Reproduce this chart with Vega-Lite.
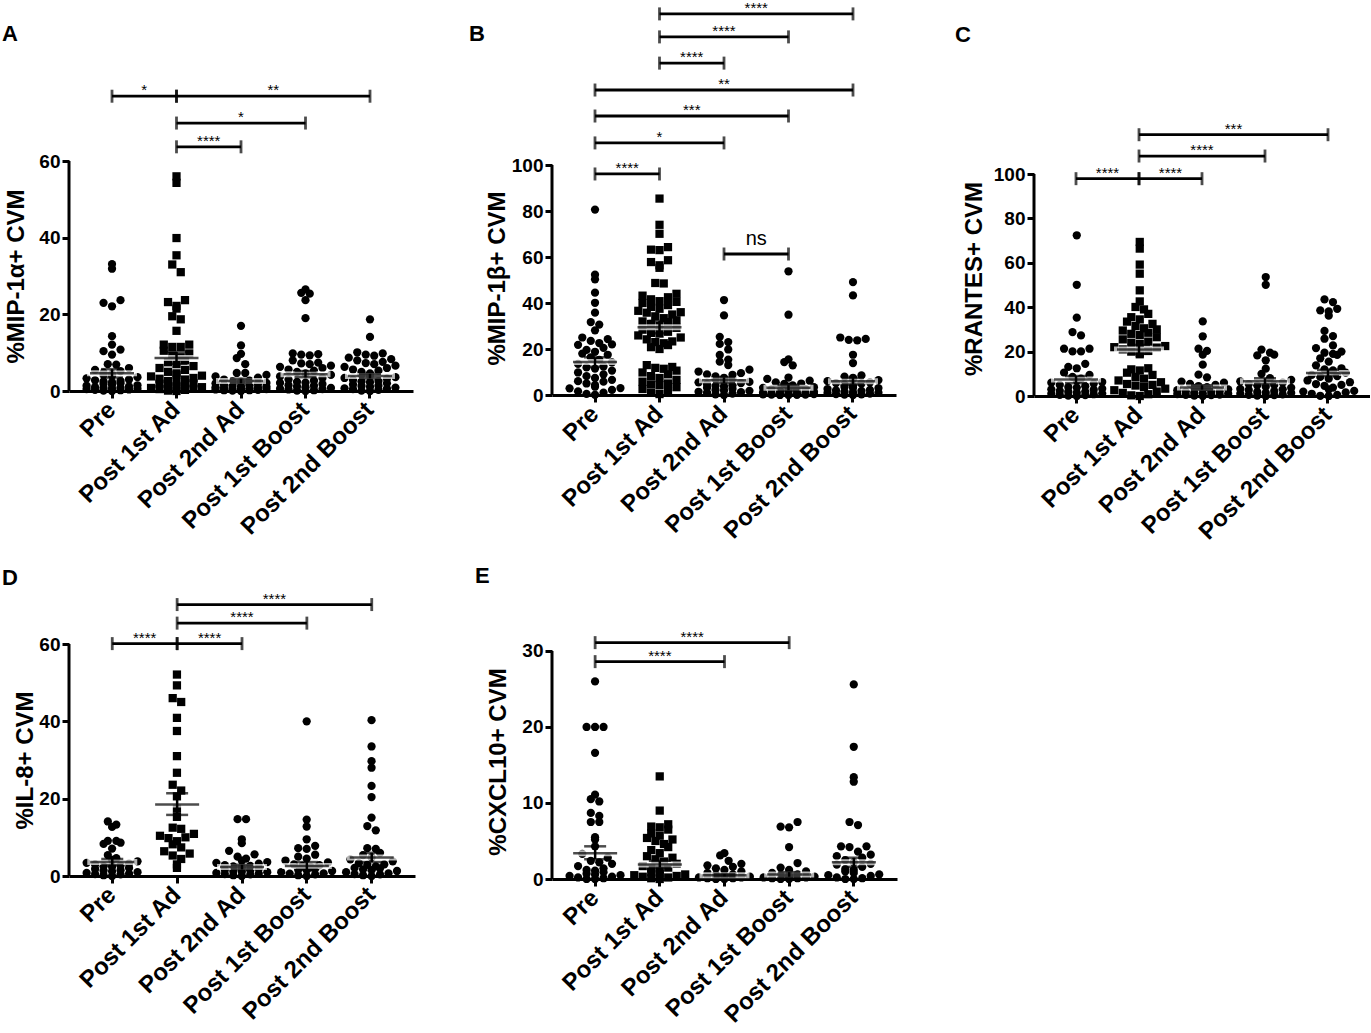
{
"$schema": "https://vega.github.io/schema/vega-lite/v6.json",
"background": "white",
"padding": {"left": 2, "top": 0, "right": 0, "bottom": 0},
"columns": 3,
"spacing": {"row": 248, "column": 137},
"bounds": "flush",
"align": {"row": "each", "column": "none"},
"config": {
  "view": {"stroke": null},
  "font": "Liberation Sans",
  "axis": {"domainColor": "black", "domainWidth": 3, "tickColor": "black", "tickWidth": 3, "tickSize": 7, "labelColor": "black", "labelFont": "Liberation Sans", "labelFontWeight": "bold", "titleColor": "black", "titleFont": "Liberation Sans", "titleFontWeight": "bold", "titleFontSize": 24, "grid": false, "labelOverlap": false},
  "axisY": {"domain": false, "labelFontSize": 19, "labelPadding": 2, "titleBaseline": "alphabetic"},
  "axisX": {"labelFontSize": 24, "labelAngle": -45, "labelAlign": "right", "labelBaseline": "middle", "labelPadding": 8, "labelLimit": 400},
  "title": {"anchor": "start", "frame": "group", "baseline": "alphabetic", "fontSize": 22, "fontWeight": "bold", "font": "Liberation Sans", "color": "black"},
  "text": {"font": "Liberation Sans", "color": "black"}
},
"datasets": {
"A": [
{"g":0,"v":33.1},{"g":0,"v":31.9},{"g":0,"v":23.7},{"g":0,"v":23.0},{"g":0,"v":22.1},{"g":0,"v":14.3},{"g":0,"v":12.1},{"g":0,"v":10.8},{"g":0,"v":10.4},{"g":0,"v":9.5},{"g":0,"v":7.0},{"g":0,"v":6.9},{"g":0,"v":6.0},{"g":0,"v":5.5},{"g":0,"v":5.2},{"g":0,"v":4.8},{"g":0,"v":4.5},{"g":0,"v":4.2},{"g":0,"v":4.0},{"g":0,"v":3.6},{"g":0,"v":3.3},{"g":0,"v":3.0},{"g":0,"v":2.8},{"g":0,"v":2.5},{"g":0,"v":2.3},{"g":0,"v":2.0},{"g":0,"v":1.8},{"g":0,"v":1.6},{"g":0,"v":1.4},{"g":0,"v":1.2},{"g":0,"v":1.0},{"g":0,"v":0.9},{"g":0,"v":0.8},{"g":0,"v":0.6},{"g":0,"v":0.5},{"g":0,"v":0.4},{"g":0,"v":0.3},{"g":0,"v":0.2},{"g":0,"v":0.1},{"g":0,"v":0.0},{"g":0,"v":1.5},{"g":0,"v":2.6},{"g":0,"v":0.7},
{"g":1,"v":56.0},{"g":1,"v":54.3},{"g":1,"v":39.9},{"g":1,"v":35.4},{"g":1,"v":33.0},{"g":1,"v":31.0},{"g":1,"v":23.7},{"g":1,"v":23.2},{"g":1,"v":22.2},{"g":1,"v":21.5},{"g":1,"v":19.5},{"g":1,"v":18.7},{"g":1,"v":15.7},{"g":1,"v":12.1},{"g":1,"v":12.1},{"g":1,"v":11.5},{"g":1,"v":11.5},{"g":1,"v":10.5},{"g":1,"v":9.8},{"g":1,"v":9.2},{"g":1,"v":8.8},{"g":1,"v":8.0},{"g":1,"v":7.5},{"g":1,"v":7.0},{"g":1,"v":6.5},{"g":1,"v":6.0},{"g":1,"v":5.5},{"g":1,"v":5.0},{"g":1,"v":4.6},{"g":1,"v":4.2},{"g":1,"v":3.8},{"g":1,"v":3.4},{"g":1,"v":3.0},{"g":1,"v":2.6},{"g":1,"v":2.2},{"g":1,"v":1.9},{"g":1,"v":1.6},{"g":1,"v":1.3},{"g":1,"v":1.0},{"g":1,"v":0.8},{"g":1,"v":0.5},{"g":1,"v":0.3},{"g":1,"v":0.1},{"g":1,"v":0.0},{"g":1,"v":2.0},{"g":1,"v":1.2},{"g":1,"v":0.6},{"g":1,"v":4.0},{"g":1,"v":3.2},
{"g":2,"v":17.0},{"g":2,"v":11.9},{"g":2,"v":9.7},{"g":2,"v":8.6},{"g":2,"v":7.0},{"g":2,"v":4.7},{"g":2,"v":4.7},{"g":2,"v":4.2},{"g":2,"v":3.8},{"g":2,"v":3.5},{"g":2,"v":3.0},{"g":2,"v":2.7},{"g":2,"v":2.4},{"g":2,"v":2.1},{"g":2,"v":1.8},{"g":2,"v":1.6},{"g":2,"v":1.4},{"g":2,"v":1.2},{"g":2,"v":1.0},{"g":2,"v":0.9},{"g":2,"v":0.7},{"g":2,"v":0.6},{"g":2,"v":0.5},{"g":2,"v":0.4},{"g":2,"v":0.3},{"g":2,"v":0.2},{"g":2,"v":0.1},{"g":2,"v":0.0},{"g":2,"v":1.1},{"g":2,"v":2.0},{"g":2,"v":0.8},{"g":2,"v":0.5},{"g":2,"v":1.5},{"g":2,"v":2.5},{"g":2,"v":0.2},
{"g":3,"v":26.5},{"g":3,"v":25.6},{"g":3,"v":25.4},{"g":3,"v":23.7},{"g":3,"v":19.0},{"g":3,"v":9.8},{"g":3,"v":9.6},{"g":3,"v":9.5},{"g":3,"v":9.3},{"g":3,"v":8.0},{"g":3,"v":7.4},{"g":3,"v":7.2},{"g":3,"v":7.0},{"g":3,"v":6.6},{"g":3,"v":6.3},{"g":3,"v":6.0},{"g":3,"v":5.6},{"g":3,"v":5.3},{"g":3,"v":5.0},{"g":3,"v":4.6},{"g":3,"v":4.2},{"g":3,"v":3.8},{"g":3,"v":3.4},{"g":3,"v":3.0},{"g":3,"v":2.7},{"g":3,"v":2.4},{"g":3,"v":2.1},{"g":3,"v":1.8},{"g":3,"v":1.5},{"g":3,"v":1.2},{"g":3,"v":1.0},{"g":3,"v":0.8},{"g":3,"v":0.6},{"g":3,"v":0.4},{"g":3,"v":0.2},{"g":3,"v":0.1},{"g":3,"v":0.0},{"g":3,"v":1.4},{"g":3,"v":2.2},{"g":3,"v":0.5},
{"g":4,"v":18.7},{"g":4,"v":14.1},{"g":4,"v":10.1},{"g":4,"v":9.8},{"g":4,"v":9.5},{"g":4,"v":9.2},{"g":4,"v":8.7},{"g":4,"v":8.3},{"g":4,"v":8.0},{"g":4,"v":7.6},{"g":4,"v":7.3},{"g":4,"v":7.0},{"g":4,"v":6.6},{"g":4,"v":6.3},{"g":4,"v":6.0},{"g":4,"v":5.6},{"g":4,"v":5.3},{"g":4,"v":5.0},{"g":4,"v":4.6},{"g":4,"v":4.3},{"g":4,"v":4.0},{"g":4,"v":3.6},{"g":4,"v":3.2},{"g":4,"v":2.9},{"g":4,"v":2.6},{"g":4,"v":2.3},{"g":4,"v":2.0},{"g":4,"v":1.7},{"g":4,"v":1.4},{"g":4,"v":1.1},{"g":4,"v":0.9},{"g":4,"v":0.7},{"g":4,"v":0.5},{"g":4,"v":0.3},{"g":4,"v":0.1},{"g":4,"v":0.0},{"g":4,"v":1.3},{"g":4,"v":2.5},{"g":4,"v":0.6},{"g":4,"v":3.4}
],
"sA": [{"g":0,"m":4.6,"lo":3.5,"hi":5.7},{"g":1,"m":8.6,"lo":7.1,"hi":10.2},{"g":2,"m":2.6,"lo":2.0,"hi":3.2},{"g":3,"m":4.4,"lo":3.6,"hi":5.2},{"g":4,"m":3.9,"lo":3.3,"hi":4.5}],
"bA": [{"a":0,"b":1,"h":76.9,"s":"*"},{"a":1,"b":4,"h":76.9,"s":"**"},{"a":1,"b":3,"h":69.9,"s":"*"},{"a":1,"b":2,"h":63.7,"s":"****"}],
"B": [
{"g":0,"v":80.6},{"g":0,"v":52.3},{"g":0,"v":50.3},{"g":0,"v":44.5},{"g":0,"v":40.1},{"g":0,"v":35.8},{"g":0,"v":31.7},{"g":0,"v":30.6},{"g":0,"v":28.1},{"g":0,"v":25.0},{"g":0,"v":24.3},{"g":0,"v":23.5},{"g":0,"v":22.6},{"g":0,"v":21.8},{"g":0,"v":20.5},{"g":0,"v":19.6},{"g":0,"v":18.8},{"g":0,"v":17.5},{"g":0,"v":16.4},{"g":0,"v":15.3},{"g":0,"v":14.2},{"g":0,"v":13.5},{"g":0,"v":12.4},{"g":0,"v":11.5},{"g":0,"v":10.6},{"g":0,"v":9.8},{"g":0,"v":9.0},{"g":0,"v":8.2},{"g":0,"v":7.4},{"g":0,"v":6.6},{"g":0,"v":5.8},{"g":0,"v":5.0},{"g":0,"v":4.3},{"g":0,"v":3.6},{"g":0,"v":2.9},{"g":0,"v":2.2},{"g":0,"v":1.6},{"g":0,"v":1.0},{"g":0,"v":0.5},{"g":0,"v":0.1},{"g":0,"v":3.0},{"g":0,"v":6.0},{"g":0,"v":12.0},{"g":0,"v":18.0},{"g":0,"v":22.0},
{"g":1,"v":85.4},{"g":1,"v":74.0},{"g":1,"v":70.1},{"g":1,"v":64.3},{"g":1,"v":63.2},{"g":1,"v":63.0},{"g":1,"v":58.6},{"g":1,"v":57.8},{"g":1,"v":56.4},{"g":1,"v":55.3},{"g":1,"v":48.7},{"g":1,"v":48.5},{"g":1,"v":44.0},{"g":1,"v":43.2},{"g":1,"v":42.5},{"g":1,"v":41.6},{"g":1,"v":40.8},{"g":1,"v":40.0},{"g":1,"v":39.1},{"g":1,"v":38.3},{"g":1,"v":37.5},{"g":1,"v":36.6},{"g":1,"v":35.8},{"g":1,"v":35.0},{"g":1,"v":34.2},{"g":1,"v":33.4},{"g":1,"v":32.5},{"g":1,"v":31.7},{"g":1,"v":30.9},{"g":1,"v":30.0},{"g":1,"v":29.2},{"g":1,"v":28.4},{"g":1,"v":27.5},{"g":1,"v":26.7},{"g":1,"v":25.9},{"g":1,"v":25.0},{"g":1,"v":24.2},{"g":1,"v":23.3},{"g":1,"v":22.5},{"g":1,"v":21.7},{"g":1,"v":20.8},{"g":1,"v":20.0},{"g":1,"v":13.0},{"g":1,"v":12.2},{"g":1,"v":11.4},{"g":1,"v":10.6},{"g":1,"v":9.8},{"g":1,"v":9.0},{"g":1,"v":8.2},{"g":1,"v":7.4},{"g":1,"v":6.6},{"g":1,"v":5.8},{"g":1,"v":5.0},{"g":1,"v":4.2},{"g":1,"v":3.4},{"g":1,"v":2.6},{"g":1,"v":1.8},{"g":1,"v":1.0},{"g":1,"v":0.4},{"g":1,"v":32.0},{"g":1,"v":36.0},{"g":1,"v":40.5},{"g":1,"v":27.0},{"g":1,"v":23.0},{"g":1,"v":11.8},{"g":1,"v":4.6},
{"g":2,"v":41.3},{"g":2,"v":34.6},{"g":2,"v":25.3},{"g":2,"v":23.0},{"g":2,"v":22.2},{"g":2,"v":19.8},{"g":2,"v":17.4},{"g":2,"v":15.4},{"g":2,"v":14.5},{"g":2,"v":13.0},{"g":2,"v":11.0},{"g":2,"v":10.2},{"g":2,"v":9.5},{"g":2,"v":8.8},{"g":2,"v":8.1},{"g":2,"v":7.5},{"g":2,"v":6.9},{"g":2,"v":6.3},{"g":2,"v":5.7},{"g":2,"v":5.2},{"g":2,"v":4.7},{"g":2,"v":4.2},{"g":2,"v":3.7},{"g":2,"v":3.2},{"g":2,"v":2.7},{"g":2,"v":2.2},{"g":2,"v":1.8},{"g":2,"v":1.4},{"g":2,"v":1.0},{"g":2,"v":0.6},{"g":2,"v":0.3},{"g":2,"v":0.0},{"g":2,"v":7.0},{"g":2,"v":4.0},{"g":2,"v":2.0},{"g":2,"v":1.2},{"g":2,"v":9.0},{"g":2,"v":5.5},
{"g":3,"v":53.8},{"g":3,"v":34.9},{"g":3,"v":15.5},{"g":3,"v":14.3},{"g":3,"v":12.9},{"g":3,"v":7.6},{"g":3,"v":7.0},{"g":3,"v":6.2},{"g":3,"v":5.5},{"g":3,"v":4.8},{"g":3,"v":4.2},{"g":3,"v":3.6},{"g":3,"v":3.1},{"g":3,"v":2.6},{"g":3,"v":2.2},{"g":3,"v":1.8},{"g":3,"v":1.4},{"g":3,"v":1.1},{"g":3,"v":0.8},{"g":3,"v":0.6},{"g":3,"v":0.4},{"g":3,"v":0.2},{"g":3,"v":0.1},{"g":3,"v":0.0},{"g":3,"v":0.3},{"g":3,"v":0.5},{"g":3,"v":1.0},{"g":3,"v":1.6},{"g":3,"v":2.4},{"g":3,"v":0.0},{"g":3,"v":0.2},{"g":3,"v":0.7},{"g":3,"v":3.4},{"g":3,"v":5.0},
{"g":4,"v":49.1},{"g":4,"v":43.3},{"g":4,"v":25.0},{"g":4,"v":24.4},{"g":4,"v":24.0},{"g":4,"v":23.8},{"g":4,"v":17.5},{"g":4,"v":13.9},{"g":4,"v":8.5},{"g":4,"v":8.0},{"g":4,"v":7.5},{"g":4,"v":7.0},{"g":4,"v":6.5},{"g":4,"v":6.0},{"g":4,"v":5.5},{"g":4,"v":5.0},{"g":4,"v":4.5},{"g":4,"v":4.0},{"g":4,"v":3.5},{"g":4,"v":3.0},{"g":4,"v":2.6},{"g":4,"v":2.2},{"g":4,"v":1.8},{"g":4,"v":1.5},{"g":4,"v":1.2},{"g":4,"v":0.9},{"g":4,"v":0.6},{"g":4,"v":0.4},{"g":4,"v":0.2},{"g":4,"v":0.0},{"g":4,"v":3.2},{"g":4,"v":1.0},{"g":4,"v":2.0},{"g":4,"v":5.2},{"g":4,"v":0.3}
],
"sB": [{"g":0,"m":14.3,"lo":12.3,"hi":16.4},{"g":1,"m":29.5,"lo":26.8,"hi":32.2},{"g":2,"m":6.4,"lo":5.2,"hi":7.7},{"g":3,"m":3.1,"lo":2.0,"hi":4.3},{"g":4,"m":6.0,"lo":4.6,"hi":7.4}],
"bB": [{"a":1,"b":4,"h":165.7,"s":"****"},{"a":1,"b":3,"h":155.7,"s":"****"},{"a":1,"b":2,"h":144.3,"s":"****"},{"a":0,"b":4,"h":132.6,"s":"**"},{"a":0,"b":3,"h":121.3,"s":"***"},{"a":0,"b":2,"h":109.6,"s":"*"},{"a":0,"b":1,"h":96.1,"s":"****"},{"a":2,"b":3,"h":61.3,"s":"ns"}],
"C": [
{"g":0,"v":72.4},{"g":0,"v":50.1},{"g":0,"v":35.3},{"g":0,"v":28.8},{"g":0,"v":27.3},{"g":0,"v":21.3},{"g":0,"v":21.3},{"g":0,"v":20.1},{"g":0,"v":20.1},{"g":0,"v":14.5},{"g":0,"v":13.1},{"g":0,"v":12.5},{"g":0,"v":10.5},{"g":0,"v":9.5},{"g":0,"v":8.6},{"g":0,"v":7.8},{"g":0,"v":7.0},{"g":0,"v":6.3},{"g":0,"v":5.6},{"g":0,"v":5.0},{"g":0,"v":4.4},{"g":0,"v":3.8},{"g":0,"v":3.3},{"g":0,"v":2.8},{"g":0,"v":2.3},{"g":0,"v":1.9},{"g":0,"v":1.5},{"g":0,"v":1.1},{"g":0,"v":0.8},{"g":0,"v":0.5},{"g":0,"v":0.2},{"g":0,"v":0.0},{"g":0,"v":1.0},{"g":0,"v":2.0},{"g":0,"v":3.0},{"g":0,"v":4.0},{"g":0,"v":6.0},{"g":0,"v":0.4},
{"g":1,"v":69.4},{"g":1,"v":66.4},{"g":1,"v":59.2},{"g":1,"v":55.1},{"g":1,"v":47.6},{"g":1,"v":42.6},{"g":1,"v":40.1},{"g":1,"v":39.0},{"g":1,"v":37.0},{"g":1,"v":35.5},{"g":1,"v":34.5},{"g":1,"v":33.5},{"g":1,"v":32.5},{"g":1,"v":31.5},{"g":1,"v":30.5},{"g":1,"v":29.5},{"g":1,"v":28.5},{"g":1,"v":27.5},{"g":1,"v":26.5},{"g":1,"v":25.5},{"g":1,"v":24.5},{"g":1,"v":23.5},{"g":1,"v":22.5},{"g":1,"v":21.8},{"g":1,"v":21.0},{"g":1,"v":20.3},{"g":1,"v":19.5},{"g":1,"v":18.8},{"g":1,"v":22.0},{"g":1,"v":20.0},{"g":1,"v":30.0},{"g":1,"v":12.5},{"g":1,"v":11.5},{"g":1,"v":10.5},{"g":1,"v":9.5},{"g":1,"v":8.6},{"g":1,"v":7.8},{"g":1,"v":7.0},{"g":1,"v":6.2},{"g":1,"v":5.4},{"g":1,"v":4.7},{"g":1,"v":4.0},{"g":1,"v":3.3},{"g":1,"v":2.6},{"g":1,"v":2.0},{"g":1,"v":1.4},{"g":1,"v":0.8},{"g":1,"v":0.3},{"g":1,"v":0.0},{"g":1,"v":12.0},{"g":1,"v":5.0},{"g":1,"v":24.0},{"g":1,"v":28.0},
{"g":2,"v":33.6},{"g":2,"v":26.9},{"g":2,"v":21.3},{"g":2,"v":20.3},{"g":2,"v":18.6},{"g":2,"v":14.1},{"g":2,"v":9.6},{"g":2,"v":8.4},{"g":2,"v":6.5},{"g":2,"v":6.0},{"g":2,"v":5.5},{"g":2,"v":5.0},{"g":2,"v":4.5},{"g":2,"v":4.0},{"g":2,"v":3.5},{"g":2,"v":3.0},{"g":2,"v":2.6},{"g":2,"v":2.2},{"g":2,"v":1.8},{"g":2,"v":1.5},{"g":2,"v":1.2},{"g":2,"v":0.9},{"g":2,"v":0.6},{"g":2,"v":0.4},{"g":2,"v":0.2},{"g":2,"v":0.0},{"g":2,"v":1.0},{"g":2,"v":2.0},{"g":2,"v":3.2},{"g":2,"v":0.5},
{"g":3,"v":53.6},{"g":3,"v":50.1},{"g":3,"v":20.9},{"g":3,"v":19.5},{"g":3,"v":18.6},{"g":3,"v":18.3},{"g":3,"v":16.1},{"g":3,"v":12.3},{"g":3,"v":10.0},{"g":3,"v":8.0},{"g":3,"v":7.3},{"g":3,"v":6.6},{"g":3,"v":6.0},{"g":3,"v":5.4},{"g":3,"v":4.8},{"g":3,"v":4.2},{"g":3,"v":3.7},{"g":3,"v":3.2},{"g":3,"v":2.7},{"g":3,"v":2.2},{"g":3,"v":1.8},{"g":3,"v":1.4},{"g":3,"v":1.0},{"g":3,"v":0.7},{"g":3,"v":0.4},{"g":3,"v":0.2},{"g":3,"v":0.0},{"g":3,"v":1.5},{"g":3,"v":3.0},{"g":3,"v":5.0},{"g":3,"v":0.5},
{"g":4,"v":43.5},{"g":4,"v":42.3},{"g":4,"v":39.3},{"g":4,"v":38.6},{"g":4,"v":38.1},{"g":4,"v":36.2},{"g":4,"v":29.3},{"g":4,"v":27.0},{"g":4,"v":25.8},{"g":4,"v":22.8},{"g":4,"v":21.6},{"g":4,"v":20.0},{"g":4,"v":19.5},{"g":4,"v":19.0},{"g":4,"v":18.5},{"g":4,"v":17.0},{"g":4,"v":15.5},{"g":4,"v":13.8},{"g":4,"v":12.5},{"g":4,"v":11.5},{"g":4,"v":10.5},{"g":4,"v":9.5},{"g":4,"v":8.6},{"g":4,"v":7.8},{"g":4,"v":7.0},{"g":4,"v":6.2},{"g":4,"v":5.4},{"g":4,"v":4.6},{"g":4,"v":3.8},{"g":4,"v":3.0},{"g":4,"v":2.3},{"g":4,"v":1.6},{"g":4,"v":1.0},{"g":4,"v":0.5},{"g":4,"v":0.1},{"g":4,"v":2.0},{"g":4,"v":5.0},{"g":4,"v":9.0},{"g":4,"v":12.0},{"g":4,"v":0.0}
],
"sC": [{"g":0,"m":7.4,"lo":5.8,"hi":9.0},{"g":1,"m":21.0,"lo":19.0,"hi":23.0},{"g":2,"m":3.8,"lo":2.9,"hi":4.8},{"g":3,"m":6.6,"lo":5.3,"hi":8.0},{"g":4,"m":10.4,"lo":9.0,"hi":11.8}],
"bC": [{"a":1,"b":4,"h":117.7,"s":"***"},{"a":1,"b":3,"h":108.1,"s":"****"},{"a":1,"b":2,"h":97.9,"s":"****"},{"a":0,"b":1,"h":97.9,"s":"****"}],
"D": [
{"g":0,"v":14.1},{"g":0,"v":13.3},{"g":0,"v":12.7},{"g":0,"v":9.1},{"g":0,"v":9.1},{"g":0,"v":8.6},{"g":0,"v":8.3},{"g":0,"v":7.1},{"g":0,"v":5.4},{"g":0,"v":4.6},{"g":0,"v":4.2},{"g":0,"v":3.8},{"g":0,"v":3.4},{"g":0,"v":3.0},{"g":0,"v":2.7},{"g":0,"v":2.4},{"g":0,"v":2.1},{"g":0,"v":1.8},{"g":0,"v":1.5},{"g":0,"v":1.2},{"g":0,"v":1.0},{"g":0,"v":0.8},{"g":0,"v":0.6},{"g":0,"v":0.4},{"g":0,"v":0.2},{"g":0,"v":0.0},{"g":0,"v":1.4},{"g":0,"v":2.5},{"g":0,"v":0.5},{"g":0,"v":3.2},
{"g":1,"v":52.1},{"g":1,"v":49.3},{"g":1,"v":46.0},{"g":1,"v":45.0},{"g":1,"v":40.9},{"g":1,"v":37.5},{"g":1,"v":31.0},{"g":1,"v":26.7},{"g":1,"v":23.6},{"g":1,"v":22.1},{"g":1,"v":20.6},{"g":1,"v":17.4},{"g":1,"v":15.3},{"g":1,"v":12.5},{"g":1,"v":12.2},{"g":1,"v":10.9},{"g":1,"v":10.4},{"g":1,"v":10.0},{"g":1,"v":9.8},{"g":1,"v":9.0},{"g":1,"v":8.2},{"g":1,"v":7.4},{"g":1,"v":6.4},{"g":1,"v":5.8},{"g":1,"v":5.3},{"g":1,"v":4.4},{"g":1,"v":3.0},{"g":1,"v":2.1},
{"g":2,"v":14.7},{"g":2,"v":14.7},{"g":2,"v":9.5},{"g":2,"v":8.5},{"g":2,"v":6.5},{"g":2,"v":5.6},{"g":2,"v":5.0},{"g":2,"v":4.5},{"g":2,"v":4.0},{"g":2,"v":3.6},{"g":2,"v":3.2},{"g":2,"v":2.8},{"g":2,"v":2.5},{"g":2,"v":2.2},{"g":2,"v":1.9},{"g":2,"v":1.6},{"g":2,"v":1.3},{"g":2,"v":1.0},{"g":2,"v":0.8},{"g":2,"v":0.6},{"g":2,"v":0.4},{"g":2,"v":0.2},{"g":2,"v":0.0},{"g":2,"v":1.5},{"g":2,"v":2.6},{"g":2,"v":0.5},{"g":2,"v":3.4},{"g":2,"v":1.1},
{"g":3,"v":40.0},{"g":3,"v":14.6},{"g":3,"v":12.8},{"g":3,"v":9.5},{"g":3,"v":7.8},{"g":3,"v":7.2},{"g":3,"v":7.0},{"g":3,"v":5.5},{"g":3,"v":5.0},{"g":3,"v":4.5},{"g":3,"v":4.0},{"g":3,"v":3.5},{"g":3,"v":3.0},{"g":3,"v":2.6},{"g":3,"v":2.2},{"g":3,"v":1.9},{"g":3,"v":1.6},{"g":3,"v":1.3},{"g":3,"v":1.0},{"g":3,"v":0.7},{"g":3,"v":0.4},{"g":3,"v":0.2},{"g":3,"v":0.0},{"g":3,"v":2.8},{"g":3,"v":1.5},{"g":3,"v":0.6},
{"g":4,"v":40.3},{"g":4,"v":33.5},{"g":4,"v":29.7},{"g":4,"v":28.0},{"g":4,"v":23.3},{"g":4,"v":20.4},{"g":4,"v":15.1},{"g":4,"v":12.9},{"g":4,"v":11.8},{"g":4,"v":7.2},{"g":4,"v":7.0},{"g":4,"v":6.0},{"g":4,"v":5.4},{"g":4,"v":4.8},{"g":4,"v":4.3},{"g":4,"v":3.8},{"g":4,"v":3.3},{"g":4,"v":2.9},{"g":4,"v":2.5},{"g":4,"v":2.1},{"g":4,"v":1.7},{"g":4,"v":1.3},{"g":4,"v":1.0},{"g":4,"v":0.7},{"g":4,"v":0.4},{"g":4,"v":0.2},{"g":4,"v":0.0},{"g":4,"v":2.0},{"g":4,"v":3.0},{"g":4,"v":0.5},{"g":4,"v":1.5}
],
"sD": [{"g":0,"m":3.6,"lo":2.8,"hi":4.4},{"g":1,"m":18.5,"lo":15.8,"hi":21.4},{"g":2,"m":2.3,"lo":1.7,"hi":2.9},{"g":3,"m":2.6,"lo":1.6,"hi":3.6},{"g":4,"m":4.8,"lo":3.6,"hi":6.0}],
"bD": [{"a":1,"b":4,"h":70.2,"s":"****"},{"a":1,"b":3,"h":65.4,"s":"****"},{"a":1,"b":2,"h":60.1,"s":"****"},{"a":0,"b":1,"h":60.1,"s":"****"}],
"E": [
{"g":0,"v":26.0},{"g":0,"v":20.0},{"g":0,"v":20.0},{"g":0,"v":20.0},{"g":0,"v":16.6},{"g":0,"v":11.1},{"g":0,"v":10.5},{"g":0,"v":10.2},{"g":0,"v":8.7},{"g":0,"v":8.3},{"g":0,"v":7.5},{"g":0,"v":7.5},{"g":0,"v":5.5},{"g":0,"v":5.2},{"g":0,"v":4.3},{"g":0,"v":3.3},{"g":0,"v":2.8},{"g":0,"v":2.4},{"g":0,"v":2.0},{"g":0,"v":1.7},{"g":0,"v":1.4},{"g":0,"v":1.1},{"g":0,"v":0.9},{"g":0,"v":0.7},{"g":0,"v":0.5},{"g":0,"v":0.3},{"g":0,"v":0.2},{"g":0,"v":0.1},{"g":0,"v":0.0},{"g":0,"v":0.0},{"g":0,"v":1.2},{"g":0,"v":2.2},{"g":0,"v":0.4},{"g":0,"v":0.6},
{"g":1,"v":13.5},{"g":1,"v":9.0},{"g":1,"v":7.2},{"g":1,"v":6.9},{"g":1,"v":6.8},{"g":1,"v":6.5},{"g":1,"v":6.0},{"g":1,"v":5.7},{"g":1,"v":5.4},{"g":1,"v":5.0},{"g":1,"v":4.6},{"g":1,"v":4.2},{"g":1,"v":3.8},{"g":1,"v":3.4},{"g":1,"v":3.0},{"g":1,"v":2.6},{"g":1,"v":2.3},{"g":1,"v":2.0},{"g":1,"v":1.7},{"g":1,"v":1.4},{"g":1,"v":1.1},{"g":1,"v":0.9},{"g":1,"v":0.7},{"g":1,"v":0.5},{"g":1,"v":0.3},{"g":1,"v":0.2},{"g":1,"v":0.1},{"g":1,"v":0.0},{"g":1,"v":1.5},{"g":1,"v":0.6},{"g":1,"v":2.8},{"g":1,"v":5.2},{"g":1,"v":0.4},
{"g":2,"v":3.4},{"g":2,"v":3.1},{"g":2,"v":2.4},{"g":2,"v":2.0},{"g":2,"v":1.8},{"g":2,"v":1.6},{"g":2,"v":1.4},{"g":2,"v":1.2},{"g":2,"v":1.0},{"g":2,"v":0.8},{"g":2,"v":0.6},{"g":2,"v":0.5},{"g":2,"v":0.4},{"g":2,"v":0.3},{"g":2,"v":0.2},{"g":2,"v":0.1},{"g":2,"v":0.0},{"g":2,"v":0.0},{"g":2,"v":0.1},{"g":2,"v":0.2},
{"g":3,"v":7.5},{"g":3,"v":6.9},{"g":3,"v":6.8},{"g":3,"v":4.2},{"g":3,"v":2.1},{"g":3,"v":1.5},{"g":3,"v":1.2},{"g":3,"v":1.0},{"g":3,"v":0.8},{"g":3,"v":0.6},{"g":3,"v":0.4},{"g":3,"v":0.3},{"g":3,"v":0.2},{"g":3,"v":0.1},{"g":3,"v":0.0},{"g":3,"v":0.0},{"g":3,"v":0.1},{"g":3,"v":0.2},{"g":3,"v":0.5},
{"g":4,"v":25.6},{"g":4,"v":17.4},{"g":4,"v":13.4},{"g":4,"v":12.8},{"g":4,"v":7.5},{"g":4,"v":7.1},{"g":4,"v":4.3},{"g":4,"v":4.2},{"g":4,"v":4.3},{"g":4,"v":3.6},{"g":4,"v":3.2},{"g":4,"v":2.8},{"g":4,"v":2.5},{"g":4,"v":2.2},{"g":4,"v":1.9},{"g":4,"v":1.6},{"g":4,"v":1.3},{"g":4,"v":1.0},{"g":4,"v":0.8},{"g":4,"v":0.6},{"g":4,"v":0.4},{"g":4,"v":0.2},{"g":4,"v":0.1},{"g":4,"v":0.0},{"g":4,"v":1.2},{"g":4,"v":2.0},{"g":4,"v":0.5},{"g":4,"v":3.0},{"g":4,"v":0.0}
],
"sE": [{"g":0,"m":3.4,"lo":2.6,"hi":4.3},{"g":1,"m":1.9,"lo":1.5,"hi":2.4},{"g":2,"m":0.5,"lo":0.35,"hi":0.65},{"g":3,"m":0.6,"lo":0.3,"hi":0.9},{"g":4,"m":2.2,"lo":1.6,"hi":2.8}],
"bE": [{"a":0,"b":3,"h":31.1,"s":"****"},{"a":0,"b":2,"h":28.6,"s":"****"}]
},
"concat": [
{
 "width": 344, "height": 230,
 "title": {"text": "A", "offset": 37, "dx": -67},
 "resolve": {"scale": {"x": "independent"}, "axis": {"x": "independent"}},
 "layer": [
  {"layer": [
   {"data": {"name": "A"},
    "transform": [
     {"calculate": "floor(datum.v/2.2)", "as": "bin"},
     {"window": [{"op": "row_number", "as": "r"}, {"op": "count", "as": "n"}], "groupby": ["g", "bin"], "sort": [{"field": "v", "order": "ascending"}], "frame": [null, null]},
     {"calculate": "(datum.r-1)%7", "as": "k"},
     {"calculate": "(datum.k%2==1?-1:1)*ceil(datum.k/2)+((datum.n<7&&datum.n%2==0)?0.5:0)", "as": "off"}
    ],
    "mark": {"type": "point", "filled": true, "opacity": 1, "color": "black", "size": 68, "strokeWidth": 0},
    "encoding": {
     "x": {"field": "g", "type": "ordinal", "title": null, "scale": {"type": "band", "domain": [0,1,2,3,4], "paddingInner": 0, "paddingOuter": 0.167}, "axis": {"labelExpr": "['Pre','Post 1st Ad','Post 2nd Ad','Post 1st Boost','Post 2nd Boost'][datum.value]"}},
     "xOffset": {"field": "off", "type": "quantitative", "scale": {"domain": [-3.8, 3.8], "zero": false, "nice": false}},
     "y": {"field": "v", "type": "quantitative", "scale": {"domain": [0, 60], "nice": false, "zero": false}, "axis": {"values": [0,20,40,60], "title": "%MIP-1α+ CVM", "titleX": -46}},
     "shape": {"field": "g", "type": "nominal", "scale": {"domain": [0,1,2,3,4], "range": ["circle","square","circle","circle","circle"]}, "legend": null}
    }},
   {"data": {"name": "sA"}, "mark": {"type": "tick", "orient": "horizontal", "color": "white", "thickness": 6, "size": 50}, "encoding": {"x": {"field": "g", "type": "ordinal", "title": null}, "y": {"field": "m", "type": "quantitative"}}},
   {"data": {"name": "sA"}, "mark": {"type": "tick", "orient": "horizontal", "color": "black", "thickness": 2.5, "size": 44}, "encoding": {"x": {"field": "g", "type": "ordinal", "title": null}, "y": {"field": "m", "type": "quantitative"}}},
   {"data": {"name": "sA"}, "mark": {"type": "rule", "color": "black", "strokeWidth": 2.5}, "encoding": {"x": {"field": "g", "type": "ordinal", "title": null, "bandPosition": 0.5}, "y": {"field": "lo", "type": "quantitative"}, "y2": {"field": "hi"}}},
   {"data": {"name": "sA"}, "transform": [{"fold": ["lo", "hi"], "as": ["end", "e"]}], "mark": {"type": "tick", "orient": "horizontal", "color": "black", "thickness": 2.5, "size": 22}, "encoding": {"x": {"field": "g", "type": "ordinal", "title": null}, "y": {"field": "e", "type": "quantitative"}}}
  ]},
  {"layer": [
   {"data": {"name": "bA"}, "mark": {"type": "rule", "color": "black", "strokeWidth": 2.8}, "encoding": {"x": {"field": "a", "type": "quantitative", "scale": {"domain": [-0.6667, 4.6667], "nice": false, "zero": false}, "axis": null}, "x2": {"field": "b"}, "y": {"field": "h", "type": "quantitative"}}},
   {"data": {"name": "bA"}, "transform": [{"fold": ["a", "b"], "as": ["end", "e"]}], "mark": {"type": "tick", "orient": "vertical", "color": "black", "thickness": 2.8, "size": 13}, "encoding": {"x": {"field": "e", "type": "quantitative", "axis": null}, "y": {"field": "h", "type": "quantitative"}}},
   {"data": {"name": "bA"}, "transform": [{"calculate": "(datum.a+datum.b)/2", "as": "mid"}], "mark": {"type": "text", "fontSize": 15, "baseline": "alphabetic", "dy": -1}, "encoding": {"x": {"field": "mid", "type": "quantitative", "axis": null}, "y": {"field": "h", "type": "quantitative"}, "text": {"field": "s"}}},
   {"data": {"values": [{}]}, "mark": {"type": "rule", "color": "black", "strokeWidth": 3}, "encoding": {"x": {"datum": -0.6667, "type": "quantitative", "axis": null}, "y": {"datum": 0, "type": "quantitative"}, "y2": {"datum": 60}}}
  ]}
 ]
},
{
 "width": 344, "height": 234,
 "title": {"text": "B", "offset": -45, "dx": -83},
 "resolve": {"scale": {"x": "independent"}, "axis": {"x": "independent"}},
 "layer": [
  {"layer": [
   {"data": {"name": "B"},
    "transform": [
     {"calculate": "floor(datum.v/3.7)", "as": "bin"},
     {"window": [{"op": "row_number", "as": "r"}, {"op": "count", "as": "n"}], "groupby": ["g", "bin"], "sort": [{"field": "v", "order": "ascending"}], "frame": [null, null]},
     {"calculate": "(datum.r-1)%7", "as": "k"},
     {"calculate": "(datum.k%2==1?-1:1)*ceil(datum.k/2)+((datum.n<7&&datum.n%2==0)?0.5:0)", "as": "off"}
    ],
    "mark": {"type": "point", "filled": true, "opacity": 1, "color": "black", "size": 68, "strokeWidth": 0},
    "encoding": {
     "x": {"field": "g", "type": "ordinal", "title": null, "scale": {"type": "band", "domain": [0,1,2,3,4], "paddingInner": 0, "paddingOuter": 0.167}, "axis": {"labelExpr": "['Pre','Post 1st Ad','Post 2nd Ad','Post 1st Boost','Post 2nd Boost'][datum.value]"}},
     "xOffset": {"field": "off", "type": "quantitative", "scale": {"domain": [-3.8, 3.8], "zero": false, "nice": false}},
     "y": {"field": "v", "type": "quantitative", "scale": {"domain": [0, 101.74], "nice": false, "zero": false}, "axis": {"values": [0,20,40,60,80,100], "title": "%MIP-1β+ CVM", "titleX": -48}},
     "shape": {"field": "g", "type": "nominal", "scale": {"domain": [0,1,2,3,4], "range": ["circle","square","circle","circle","circle"]}, "legend": null}
    }},
   {"data": {"name": "sB"}, "mark": {"type": "tick", "orient": "horizontal", "color": "white", "thickness": 6, "size": 50}, "encoding": {"x": {"field": "g", "type": "ordinal", "title": null}, "y": {"field": "m", "type": "quantitative"}}},
   {"data": {"name": "sB"}, "mark": {"type": "tick", "orient": "horizontal", "color": "black", "thickness": 2.5, "size": 44}, "encoding": {"x": {"field": "g", "type": "ordinal", "title": null}, "y": {"field": "m", "type": "quantitative"}}},
   {"data": {"name": "sB"}, "mark": {"type": "rule", "color": "black", "strokeWidth": 2.5}, "encoding": {"x": {"field": "g", "type": "ordinal", "title": null, "bandPosition": 0.5}, "y": {"field": "lo", "type": "quantitative"}, "y2": {"field": "hi"}}},
   {"data": {"name": "sB"}, "transform": [{"fold": ["lo", "hi"], "as": ["end", "e"]}], "mark": {"type": "tick", "orient": "horizontal", "color": "black", "thickness": 2.5, "size": 22}, "encoding": {"x": {"field": "g", "type": "ordinal", "title": null}, "y": {"field": "e", "type": "quantitative"}}}
  ]},
  {"layer": [
   {"data": {"name": "bB"}, "mark": {"type": "rule", "color": "black", "strokeWidth": 2.8}, "encoding": {"x": {"field": "a", "type": "quantitative", "scale": {"domain": [-0.6667, 4.6667], "nice": false, "zero": false}, "axis": null}, "x2": {"field": "b"}, "y": {"field": "h", "type": "quantitative"}}},
   {"data": {"name": "bB"}, "transform": [{"fold": ["a", "b"], "as": ["end", "e"]}], "mark": {"type": "tick", "orient": "vertical", "color": "black", "thickness": 2.8, "size": 13}, "encoding": {"x": {"field": "e", "type": "quantitative", "axis": null}, "y": {"field": "h", "type": "quantitative"}}},
   {"data": {"name": "bB"}, "transform": [{"filter": "datum.s != 'ns'"}, {"calculate": "(datum.a+datum.b)/2", "as": "mid"}], "mark": {"type": "text", "fontSize": 15, "baseline": "alphabetic", "dy": -1}, "encoding": {"x": {"field": "mid", "type": "quantitative", "axis": null}, "y": {"field": "h", "type": "quantitative"}, "text": {"field": "s"}}},
   {"data": {"name": "bB"}, "transform": [{"filter": "datum.s == 'ns'"}, {"calculate": "(datum.a+datum.b)/2", "as": "mid"}], "mark": {"type": "text", "fontSize": 20, "baseline": "alphabetic", "dy": -9}, "encoding": {"x": {"field": "mid", "type": "quantitative", "axis": null}, "y": {"field": "h", "type": "quantitative"}, "text": {"field": "s"}}},
   {"data": {"values": [{}]}, "mark": {"type": "rule", "color": "black", "strokeWidth": 3}, "encoding": {"x": {"datum": -0.6667, "type": "quantitative", "axis": null}, "y": {"datum": 0, "type": "quantitative"}, "y2": {"datum": 100}}}
  ]}
 ]
},
{
 "width": 336, "height": 235,
 "title": {"text": "C", "offset": 75, "dx": -79},
 "resolve": {"scale": {"x": "independent"}, "axis": {"x": "independent"}},
 "layer": [
  {"layer": [
   {"data": {"name": "C"},
    "transform": [
     {"calculate": "floor(datum.v/3.8)", "as": "bin"},
     {"window": [{"op": "row_number", "as": "r"}, {"op": "count", "as": "n"}], "groupby": ["g", "bin"], "sort": [{"field": "v", "order": "ascending"}], "frame": [null, null]},
     {"calculate": "(datum.r-1)%7", "as": "k"},
     {"calculate": "(datum.k%2==1?-1:1)*ceil(datum.k/2)+((datum.n<7&&datum.n%2==0)?0.5:0)", "as": "off"}
    ],
    "mark": {"type": "point", "filled": true, "opacity": 1, "color": "black", "size": 68, "strokeWidth": 0},
    "encoding": {
     "x": {"field": "g", "type": "ordinal", "title": null, "scale": {"type": "band", "domain": [0,1,2,3,4], "paddingInner": 0, "paddingOuter": 0.167}, "axis": {"labelExpr": "['Pre','Post 1st Ad','Post 2nd Ad','Post 1st Boost','Post 2nd Boost'][datum.value]"}},
     "xOffset": {"field": "off", "type": "quantitative", "scale": {"domain": [-3.8, 3.8], "zero": false, "nice": false}},
     "y": {"field": "v", "type": "quantitative", "scale": {"domain": [0, 105.86], "nice": false, "zero": false}, "axis": {"values": [0,20,40,60,80,100], "title": "%RANTES+ CVM", "titleX": -53}},
     "shape": {"field": "g", "type": "nominal", "scale": {"domain": [0,1,2,3,4], "range": ["circle","square","circle","circle","circle"]}, "legend": null}
    }},
   {"data": {"name": "sC"}, "mark": {"type": "tick", "orient": "horizontal", "color": "white", "thickness": 6, "size": 50}, "encoding": {"x": {"field": "g", "type": "ordinal", "title": null}, "y": {"field": "m", "type": "quantitative"}}},
   {"data": {"name": "sC"}, "mark": {"type": "tick", "orient": "horizontal", "color": "black", "thickness": 2.5, "size": 44}, "encoding": {"x": {"field": "g", "type": "ordinal", "title": null}, "y": {"field": "m", "type": "quantitative"}}},
   {"data": {"name": "sC"}, "mark": {"type": "rule", "color": "black", "strokeWidth": 2.5}, "encoding": {"x": {"field": "g", "type": "ordinal", "title": null, "bandPosition": 0.5}, "y": {"field": "lo", "type": "quantitative"}, "y2": {"field": "hi"}}},
   {"data": {"name": "sC"}, "transform": [{"fold": ["lo", "hi"], "as": ["end", "e"]}], "mark": {"type": "tick", "orient": "horizontal", "color": "black", "thickness": 2.5, "size": 22}, "encoding": {"x": {"field": "g", "type": "ordinal", "title": null}, "y": {"field": "e", "type": "quantitative"}}}
  ]},
  {"layer": [
   {"data": {"name": "bC"}, "mark": {"type": "rule", "color": "black", "strokeWidth": 2.8}, "encoding": {"x": {"field": "a", "type": "quantitative", "scale": {"domain": [-0.6667, 4.6667], "nice": false, "zero": false}, "axis": null}, "x2": {"field": "b"}, "y": {"field": "h", "type": "quantitative"}}},
   {"data": {"name": "bC"}, "transform": [{"fold": ["a", "b"], "as": ["end", "e"]}], "mark": {"type": "tick", "orient": "vertical", "color": "black", "thickness": 2.8, "size": 13}, "encoding": {"x": {"field": "e", "type": "quantitative", "axis": null}, "y": {"field": "h", "type": "quantitative"}}},
   {"data": {"name": "bC"}, "transform": [{"calculate": "(datum.a+datum.b)/2", "as": "mid"}], "mark": {"type": "text", "fontSize": 15, "baseline": "alphabetic", "dy": -1}, "encoding": {"x": {"field": "mid", "type": "quantitative", "axis": null}, "y": {"field": "h", "type": "quantitative"}, "text": {"field": "s"}}},
   {"data": {"values": [{}]}, "mark": {"type": "rule", "color": "black", "strokeWidth": 3}, "encoding": {"x": {"datum": -0.6667, "type": "quantitative", "axis": null}, "y": {"datum": 0, "type": "quantitative"}, "y2": {"datum": 100}}}
  ]}
 ]
},
{
 "width": 346, "height": 232,
 "title": {"text": "D", "offset": 2, "dx": -67},
 "resolve": {"scale": {"x": "independent"}, "axis": {"x": "independent"}},
 "layer": [
  {"layer": [
   {"data": {"name": "D"},
    "transform": [
     {"calculate": "floor(datum.v/2.2)", "as": "bin"},
     {"window": [{"op": "row_number", "as": "r"}, {"op": "count", "as": "n"}], "groupby": ["g", "bin"], "sort": [{"field": "v", "order": "ascending"}], "frame": [null, null]},
     {"calculate": "(datum.r-1)%7", "as": "k"},
     {"calculate": "(datum.k%2==1?-1:1)*ceil(datum.k/2)+((datum.n<7&&datum.n%2==0)?0.5:0)", "as": "off"}
    ],
    "mark": {"type": "point", "filled": true, "opacity": 1, "color": "black", "size": 68, "strokeWidth": 0},
    "encoding": {
     "x": {"field": "g", "type": "ordinal", "title": null, "scale": {"type": "band", "domain": [0,1,2,3,4], "paddingInner": 0, "paddingOuter": 0.167}, "axis": {"labelExpr": "['Pre','Post 1st Ad','Post 2nd Ad','Post 1st Boost','Post 2nd Boost'][datum.value]"}},
     "xOffset": {"field": "off", "type": "quantitative", "scale": {"domain": [-3.8, 3.8], "zero": false, "nice": false}},
     "y": {"field": "v", "type": "quantitative", "scale": {"domain": [0, 60], "nice": false, "zero": false}, "axis": {"values": [0,20,40,60], "title": "%IL-8+ CVM", "titleX": -37}},
     "shape": {"field": "g", "type": "nominal", "scale": {"domain": [0,1,2,3,4], "range": ["circle","square","circle","circle","circle"]}, "legend": null}
    }},
   {"data": {"name": "sD"}, "mark": {"type": "tick", "orient": "horizontal", "color": "white", "thickness": 6, "size": 50}, "encoding": {"x": {"field": "g", "type": "ordinal", "title": null}, "y": {"field": "m", "type": "quantitative"}}},
   {"data": {"name": "sD"}, "mark": {"type": "tick", "orient": "horizontal", "color": "black", "thickness": 2.5, "size": 44}, "encoding": {"x": {"field": "g", "type": "ordinal", "title": null}, "y": {"field": "m", "type": "quantitative"}}},
   {"data": {"name": "sD"}, "mark": {"type": "rule", "color": "black", "strokeWidth": 2.5}, "encoding": {"x": {"field": "g", "type": "ordinal", "title": null, "bandPosition": 0.5}, "y": {"field": "lo", "type": "quantitative"}, "y2": {"field": "hi"}}},
   {"data": {"name": "sD"}, "transform": [{"fold": ["lo", "hi"], "as": ["end", "e"]}], "mark": {"type": "tick", "orient": "horizontal", "color": "black", "thickness": 2.5, "size": 22}, "encoding": {"x": {"field": "g", "type": "ordinal", "title": null}, "y": {"field": "e", "type": "quantitative"}}}
  ]},
  {"layer": [
   {"data": {"name": "bD"}, "mark": {"type": "rule", "color": "black", "strokeWidth": 2.8}, "encoding": {"x": {"field": "a", "type": "quantitative", "scale": {"domain": [-0.6667, 4.6667], "nice": false, "zero": false}, "axis": null}, "x2": {"field": "b"}, "y": {"field": "h", "type": "quantitative"}}},
   {"data": {"name": "bD"}, "transform": [{"fold": ["a", "b"], "as": ["end", "e"]}], "mark": {"type": "tick", "orient": "vertical", "color": "black", "thickness": 2.8, "size": 13}, "encoding": {"x": {"field": "e", "type": "quantitative", "axis": null}, "y": {"field": "h", "type": "quantitative"}}},
   {"data": {"name": "bD"}, "transform": [{"calculate": "(datum.a+datum.b)/2", "as": "mid"}], "mark": {"type": "text", "fontSize": 15, "baseline": "alphabetic", "dy": -1}, "encoding": {"x": {"field": "mid", "type": "quantitative", "axis": null}, "y": {"field": "h", "type": "quantitative"}, "text": {"field": "s"}}},
   {"data": {"values": [{}]}, "mark": {"type": "rule", "color": "black", "strokeWidth": 3}, "encoding": {"x": {"datum": -0.6667, "type": "quantitative", "axis": null}, "y": {"datum": 0, "type": "quantitative"}, "y2": {"datum": 60}}}
  ]}
 ]
},
{
 "width": 345, "height": 235,
 "title": {"text": "E", "offset": 42, "dx": -77},
 "resolve": {"scale": {"x": "independent"}, "axis": {"x": "independent"}},
 "layer": [
  {"layer": [
   {"data": {"name": "E"},
    "transform": [
     {"calculate": "floor(datum.v/1.1)", "as": "bin"},
     {"window": [{"op": "row_number", "as": "r"}, {"op": "count", "as": "n"}], "groupby": ["g", "bin"], "sort": [{"field": "v", "order": "ascending"}], "frame": [null, null]},
     {"calculate": "(datum.r-1)%7", "as": "k"},
     {"calculate": "(datum.k%2==1?-1:1)*ceil(datum.k/2)+((datum.n<7&&datum.n%2==0)?0.5:0)", "as": "off"}
    ],
    "mark": {"type": "point", "filled": true, "opacity": 1, "color": "black", "size": 68, "strokeWidth": 0},
    "encoding": {
     "x": {"field": "g", "type": "ordinal", "title": null, "scale": {"type": "band", "domain": [0,1,2,3,4], "paddingInner": 0, "paddingOuter": 0.167}, "axis": {"labelExpr": "['Pre','Post 1st Ad','Post 2nd Ad','Post 1st Boost','Post 2nd Boost'][datum.value]"}},
     "xOffset": {"field": "off", "type": "quantitative", "scale": {"domain": [-3.8, 3.8], "zero": false, "nice": false}},
     "y": {"field": "v", "type": "quantitative", "scale": {"domain": [0, 30.92], "nice": false, "zero": false}, "axis": {"values": [0,10,20,30], "title": "%CXCL10+ CVM", "titleX": -47}},
     "shape": {"field": "g", "type": "nominal", "scale": {"domain": [0,1,2,3,4], "range": ["circle","square","circle","circle","circle"]}, "legend": null}
    }},
   {"data": {"name": "sE"}, "mark": {"type": "tick", "orient": "horizontal", "color": "white", "thickness": 6, "size": 50}, "encoding": {"x": {"field": "g", "type": "ordinal", "title": null}, "y": {"field": "m", "type": "quantitative"}}},
   {"data": {"name": "sE"}, "mark": {"type": "tick", "orient": "horizontal", "color": "black", "thickness": 2.5, "size": 44}, "encoding": {"x": {"field": "g", "type": "ordinal", "title": null}, "y": {"field": "m", "type": "quantitative"}}},
   {"data": {"name": "sE"}, "mark": {"type": "rule", "color": "black", "strokeWidth": 2.5}, "encoding": {"x": {"field": "g", "type": "ordinal", "title": null, "bandPosition": 0.5}, "y": {"field": "lo", "type": "quantitative"}, "y2": {"field": "hi"}}},
   {"data": {"name": "sE"}, "transform": [{"fold": ["lo", "hi"], "as": ["end", "e"]}], "mark": {"type": "tick", "orient": "horizontal", "color": "black", "thickness": 2.5, "size": 22}, "encoding": {"x": {"field": "g", "type": "ordinal", "title": null}, "y": {"field": "e", "type": "quantitative"}}}
  ]},
  {"layer": [
   {"data": {"name": "bE"}, "mark": {"type": "rule", "color": "black", "strokeWidth": 2.8}, "encoding": {"x": {"field": "a", "type": "quantitative", "scale": {"domain": [-0.6667, 4.6667], "nice": false, "zero": false}, "axis": null}, "x2": {"field": "b"}, "y": {"field": "h", "type": "quantitative"}}},
   {"data": {"name": "bE"}, "transform": [{"fold": ["a", "b"], "as": ["end", "e"]}], "mark": {"type": "tick", "orient": "vertical", "color": "black", "thickness": 2.8, "size": 13}, "encoding": {"x": {"field": "e", "type": "quantitative", "axis": null}, "y": {"field": "h", "type": "quantitative"}}},
   {"data": {"name": "bE"}, "transform": [{"calculate": "(datum.a+datum.b)/2", "as": "mid"}], "mark": {"type": "text", "fontSize": 15, "baseline": "alphabetic", "dy": -1}, "encoding": {"x": {"field": "mid", "type": "quantitative", "axis": null}, "y": {"field": "h", "type": "quantitative"}, "text": {"field": "s"}}},
   {"data": {"values": [{}]}, "mark": {"type": "rule", "color": "black", "strokeWidth": 3}, "encoding": {"x": {"datum": -0.6667, "type": "quantitative", "axis": null}, "y": {"datum": 0, "type": "quantitative"}, "y2": {"datum": 30}}}
  ]}
 ]
}
]
}
